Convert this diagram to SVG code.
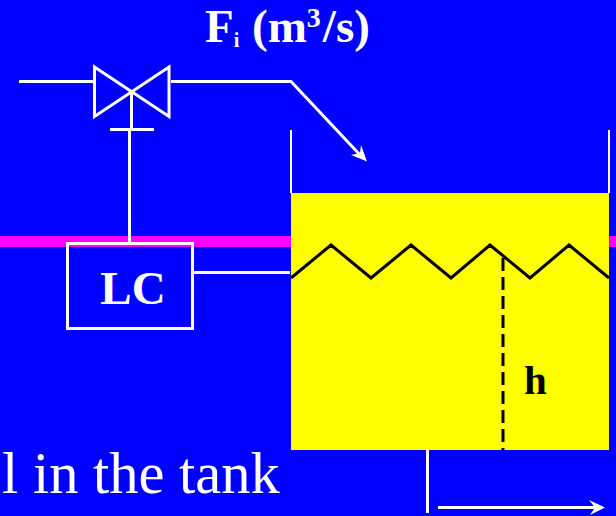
<svg xmlns="http://www.w3.org/2000/svg" width="616" height="516" viewBox="0 0 616 516">
<style>
.w{fill:none;stroke:#fff;stroke-width:3}
.n{stroke-width:2}
.h{fill:#fff;stroke:none}
.k{fill:none;stroke:#000;stroke-width:3}
.t{font-family:"Liberation Serif","Times New Roman",serif}
.b{font-weight:bold}
</style>
<rect width="616" height="516" fill="#0000ff"/>
<rect id="band" x="0" y="236" width="616" height="11" fill="#ff00ff"/>
<g id="tank">
<rect x="291" y="193" width="318" height="257" fill="#ffff00"/>
<path class="w n" d="M291 130V193M609 130V193"/>
<path class="k" d="M291 278L331 245L371 278L411 245L451 278L490 245L530 278L569 245L609 278"/>
<path class="k" d="M503 258V450" stroke-dasharray="13 6"/>
<text class="t b" x="524" y="394" font-size="41" fill="#000">h</text>
</g>
<g id="valve">
<path class="w" d="M94.500 67L169 116.500V67L94.500 116.500Z"/>
<path class="w" d="M110 129.500H154"/>
</g>
<g id="lc">
<rect class="w" x="67.500" y="243.500" width="125" height="85"/>
<text class="t b" x="133" y="304" font-size="47" fill="#fff" text-anchor="middle">LC</text>
</g>
<g id="connectors">
<path class="w" d="M19 81.500H93M171 81.500H291L362 157"/>
<path class="h" d="M367 161.500L351 155L360 153L361 145Z"/>
<path class="w" d="M131.500 91V129M129.500 129V243"/>
<path class="w" d="M193 272.500H290"/>
<path class="w" d="M427.500 450V513"/>
<path class="w" d="M438 507.500H600"/>
<path class="h" d="M605 507.500L589 500L595 507.500L590 515Z"/>
</g>
<g id="labels">
<text class="t b" x="205" y="42" font-size="47" fill="#fff">F<tspan font-size="20" dy="5">i</tspan><tspan dy="-5" dx="1"> (m</tspan><tspan font-size="28" dy="-15">3</tspan><tspan dy="15" dx="2">/s)</tspan></text>
<text class="t" x="2" y="493" font-size="58.500" fill="#fff">l in the tank</text>
</g>
</svg>
